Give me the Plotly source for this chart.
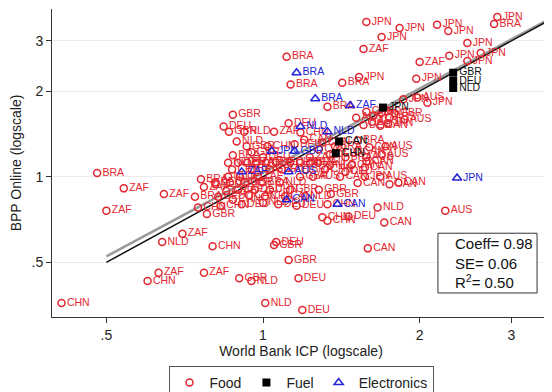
import plotly.graph_objects as go

# ---- Food (red circles) ----
food_x = [1.58, 1.83, 2.16, 2.27, 2.82, 2.78, 1.69, 2.47, 1.56, 2.00, 2.28, 2.62, 2.47, 1.97, 1.53,
          1.11, 1.13, 1.42, 1.33, 0.875, 0.84, 0.86, 0.92, 1.05, 1.12, 0.89, 1.18,
          0.48, 0.54, 0.645, 0.50, 0.70, 0.64, 0.63, 0.60, 0.41, 0.77, 0.80, 0.76, 0.77, 0.74, 0.75, 0.78,
          0.81, 0.82, 0.83, 0.85,
          1.06, 1.05, 1.12, 0.90, 0.95, 1.17, 1.01, 1.19, 1.30, 1.33, 1.46, 1.59, 1.66, 1.71, 2.24,
          1.07, 1.33, 1.28, 1.35, 1.00, 0.91, 1.16, 0.875, 0.94,
          0.875, 0.95, 1.00, 0.93, 1.02,
          0.857, 0.895, 0.932, 0.970, 1.013, 1.059, 1.127, 1.178, 1.231, 1.276,
          0.872, 0.952, 1.031, 1.088, 1.21, 1.316,
          0.857, 0.903, 0.978, 1.178, 1.248, 1.406,
          0.809, 0.864, 0.923, 0.996, 1.078,
          0.895, 0.965, 1.031, 1.127,
          1.009, 1.102, 1.204,
          1.28, 1.345, 1.44, 1.52, 1.58, 1.48, 1.57, 1.44, 1.345, 1.23, 1.15, 1.20, 1.30, 1.375,
          1.86, 1.98, 2.07, 1.58, 1.63, 1.69, 1.75, 1.79, 1.62, 1.68, 1.74, 1.56, 1.51, 1.87,
          1.52, 1.60, 1.72, 1.69, 1.58, 1.68, 1.57, 1.75, 1.82, 1.52]
food_y = [3.50, 3.33, 3.42, 3.25, 3.64, 3.44, 3.10, 2.95, 2.81, 2.53, 2.66, 2.72, 2.55, 2.21, 2.24,
          2.64, 2.11, 2.14, 1.76, 1.65, 1.50, 1.44, 1.44, 1.44, 1.54, 1.33, 1.43,
          1.03, 0.91, 0.87, 0.76, 0.63, 0.59, 0.46, 0.43, 0.36, 0.46, 0.57, 0.98, 0.92, 0.85, 0.78, 0.74,
          0.94, 0.85, 0.79, 0.89,
          0.59, 0.575, 0.51, 0.44, 0.43, 0.44, 0.36, 0.34, 0.72, 0.70, 0.725, 0.56, 0.78, 0.69, 0.76,
          0.80, 0.80, 0.90, 0.87, 0.81, 0.80, 0.79, 0.83, 0.86,
          1.19, 1.22, 1.17, 1.28, 1.28,
          1.12, 1.12, 1.12, 1.12, 1.12, 1.12, 1.12, 1.12, 1.12, 1.12,
          1.06, 1.06, 1.06, 1.06, 1.06, 1.06,
          1.00, 1.00, 1.00, 1.00, 1.00, 1.00,
          0.955, 0.955, 0.955, 0.955, 0.955,
          0.90, 0.90, 0.90, 0.90,
          0.853, 0.853, 0.853,
          1.25, 1.20, 1.17, 1.23, 1.17, 1.10, 1.08, 1.04, 1.10, 1.17, 1.30, 1.35, 1.32, 1.28,
          1.87, 1.90, 1.82, 1.69, 1.64, 1.68, 1.61, 1.67, 1.56, 1.51, 1.54, 1.52, 1.61, 1.59,
          1.34, 1.27, 1.28, 1.20, 1.13, 1.00, 1.00, 0.94, 0.955, 0.95]
food_lbl = ["JPN", "JPN", "JPN", "JPN", "JPN", "BRA", "JPN", "JPN", "ZAF", "ZAF", "JPN", "JPN", "JPN", "JPN", "JPN",
            "BRA", "BRA", "BRA", "BRA", "GBR", "DEU", "GBR", "NLD", "ZAF", "DEU", "NLD", "CHN",
            "BRA", "ZAF", "ZAF", "ZAF", "ZAF", "NLD", "ZAF", "CHN", "CHN", "ZAF", "CHN", "BRA", "ZAF", "BRA", "CHN", "GBR",
            "NLD", "DEU", "CHN", "GBR",
            "DEU", "GBR", "GBR", "GBR", "NLD", "DEU", "NLD", "DEU", "CHN", "CHN", "DEU", "CAN", "NLD", "CAN", "AUS",
            "DEU", "CHN", "GBR", "GBR", "NLD", "DEU", "DEU", "CHN", "CAN",
            "BRA", "GBR", "DEU", "GBR", "CHN",
            "NLD", "DEU", "BRA", "ZAF", "GBR", "DEU", "CHN", "ZAF", "BRA", "DEU",
            "CHN", "BRA", "GBR", "ZAF", "BRA", "CHN",
            "NLD", "DEU", "ZAF", "GBR", "AUS", "CAN",
            "DEU", "CHN", "GBR", "BRA", "NLD",
            "ZAF", "DEU", "CHN", "GBR",
            "CHN", "CAN", "NLD",
            "CAN", "DEU", "BRA", "CAN", "AUS", "CHN", "CAN", "DEU", "NLD", "ZAF", "DEU", "CAN", "CHN", "BRA",
            "JPN", "AUS", "JPN", "CAN", "JPN", "BRA", "AUS", "GBR", "AUS", "CAN", "JPN", "DEU", "AUS", "AUS",
            "BRA", "CAN", "AUS", "AUS", "CAN", "AUS", "JPN", "CAN", "CAN", "CAN"]

# ---- Fuel (black squares) ----
fuel_x = [1.70, 1.40, 1.38, 2.32, 2.32, 2.32]
fuel_y = [1.75, 1.33, 1.21, 2.32, 2.17, 2.05]
fuel_lbl = ["JPN", "CAN", "CHN", "GBR", "DEU", "NLD"]

# ---- Electronics (blue triangles) ----
elec_x = [1.16, 1.26, 1.47, 1.18, 1.33, 1.04, 1.15, 0.91, 1.12, 1.11, 1.39, 2.36]
elec_y = [2.32, 1.88, 1.78, 1.50, 1.44, 1.23, 1.23, 1.04, 1.04, 0.83, 0.80, 0.99]
elec_lbl = ["BRA", "BRA", "ZAF", "NLD", "NLD", "JPN", "GBR", "ZAF", "AUS", "CAN", "CAN", "JPN"]

# ---- fit ----
coeff, se, r2 = 0.98, 0.06, 0.50
fit_x = [0.5, 3.5]
fit_const = 1.035

x_ticks = [0.5, 1, 2, 3]
x_tick_text = [".5", "1", "2", "3"]
y_ticks = [0.5, 1, 2, 3]
y_tick_text = [".5", "1", "2", "3"]

RED = "#e3262f"
BLUE = "#2424d8"
FONT = "Liberation Sans, Arial, sans-serif"

fig = go.Figure()

# regression fit (gray) and 45-degree line (black)
fig.add_trace(go.Scatter(x=fit_x, y=[fit_const * v ** coeff for v in fit_x], mode="lines",
                         line=dict(color="#9a9a9a", width=2.5), showlegend=False, hoverinfo="skip"))
fig.add_trace(go.Scatter(x=fit_x, y=fit_x, mode="lines",
                         line=dict(color="#111111", width=1.5), showlegend=False, hoverinfo="skip"))

fig.add_trace(go.Scatter(x=food_x, y=food_y, text=food_lbl, mode="markers+text", name="Food",
                         textposition="middle right",
                         textfont=dict(color=RED, size=10.5, family=FONT),
                         marker=dict(symbol="circle-open", size=7, color=RED, line=dict(width=1.5))))
fig.add_trace(go.Scatter(x=fuel_x, y=fuel_y, text=fuel_lbl, mode="markers+text", name="Fuel",
                         textposition="middle right",
                         textfont=dict(color="#111111", size=10.5, family=FONT),
                         marker=dict(symbol="square", size=8, color="#000000")))
fig.add_trace(go.Scatter(x=elec_x, y=elec_y, text=elec_lbl, mode="markers+text", name="Electronics",
                         textposition="middle right",
                         textfont=dict(color=BLUE, size=10.5, family=FONT),
                         marker=dict(symbol="triangle-up-open", size=8, color=BLUE, line=dict(width=1.5))))

fig.add_shape(type="rect", xref="paper", yref="paper", x0=0.775, x1=0.974, y0=0.078, y1=0.272,
              line=dict(color="#333333", width=1), fillcolor="white", layer="above")
fig.add_annotation(xref="paper", yref="paper", x=0.806, y=0.175, xanchor="left", yanchor="middle",
                   text=f"Coeff= {coeff:.2f}<br>SE= {se:.2f}<br>R<sup>2</sup>= {r2:.2f}",
                   showarrow=False, align="left", font=dict(size=15, color="#111111", family=FONT))

fig.update_layout(
    width=552, height=392,
    margin=dict(l=44, r=10, t=1, b=82),
    paper_bgcolor="white", plot_bgcolor="white",
    font=dict(family=FONT, size=14, color="#222222"),
    showlegend=True,
    legend=dict(orientation="h", x=0.5, xanchor="center", y=-0.155, yanchor="top",
                bordercolor="#555555", borderwidth=1, font=dict(size=14, family=FONT),
                traceorder="normal"),
)
fig.update_xaxes(type="log", range=[-0.4055, 0.5515], tickvals=x_ticks, ticktext=x_tick_text,
                 showgrid=False, zeroline=False, showline=True, linecolor="#333333", linewidth=1,
                 ticks="outside", ticklen=5, tickcolor="#333333", automargin=False,
                 title=dict(text="World Bank ICP (logscale)", font=dict(size=14), standoff=2))
fig.update_yaxes(type="log", range=[-0.493, 0.5894], tickvals=y_ticks, ticktext=y_tick_text,
                 showgrid=True, gridcolor="#ececec", gridwidth=1, zeroline=False,
                 showline=True, linecolor="#333333", linewidth=1,
                 ticks="outside", ticklen=5, tickcolor="#333333", automargin=False,
                 title=dict(text="BPP Online (logscale)", font=dict(size=14), standoff=6))

fig.write_html("out.html")
